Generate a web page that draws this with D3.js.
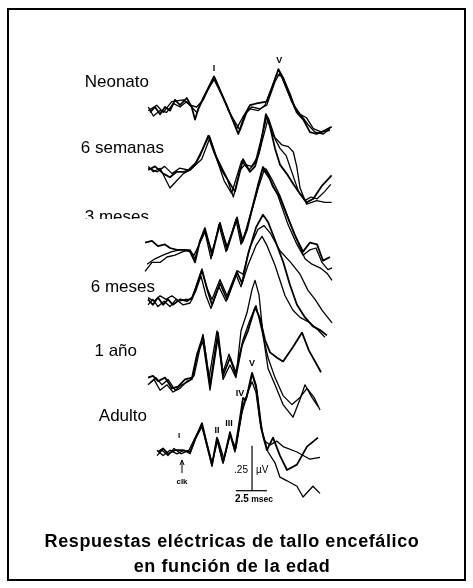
<!DOCTYPE html>
<html>
<head>
<meta charset="utf-8">
<script src="https://cdn.jsdelivr.net/npm/d3@7"></script>
<style>
body { margin: 0; background: #fff; }
svg { will-change: transform; }
svg text { font-family: "Liberation Sans", Arial, sans-serif; fill: #000; }
</style>
</head>
<body>
<div id="chart"></div>
<script>
// tiempo en ms (0 = click), amplitud en µV
var neonato1 = [[-2.58,-0.03],[-2.18,0],[-1.77,-0.04],[-1.37,0],[-0.97,-0.02],[-0.56,0.04],[-0.16,0.01],[0.38,0.05],[0.78,0],[1.05,-0.07],[1.32,-0.01],[1.72,0.05],[2.58,0.17],[3.6,0.01],[4.54,-0.15],[5.08,-0.04],[5.48,0.01],[6.02,0.02],[6.83,0.03],[7.23,0.1],[7.77,0.21],[8.17,0.16],[8.71,0.07],[9.25,-0.03],[9.78,-0.07],[10.32,-0.14],[10.86,-0.15],[11.53,-0.13],[12.07,-0.11]];
var neonato2 = [[-2.72,0],[-2.31,-0.05],[-1.77,-0.02],[-1.24,-0.03],[-0.7,0.02],[-0.16,0],[0.38,0.03],[0.91,-0.01],[1.18,-0.03],[1.85,0.07],[2.66,0.16],[3.74,-0.02],[4.68,-0.13],[5.22,-0.03],[5.62,0],[6.29,-0.01],[6.83,0.01],[7.5,0.14],[7.9,0.19],[8.44,0.1],[9.11,-0.01],[9.65,-0.05],[10.19,-0.1],[10.73,-0.14],[11.4,-0.15],[11.94,-0.12]];
var neonato3 = [[-2.72,-0.02],[-2.04,0.01],[-1.51,-0.03],[-0.83,0.03],[0.11,0.04],[0.65,0.01],[1.18,0],[1.72,0.04],[2.53,0.16],[3.47,0.03],[4.41,-0.12],[4.95,-0.05],[5.48,-0.01],[6.16,-0.02],[6.69,0.01],[7.63,0.18],[8.04,0.17],[8.84,0.03],[9.52,-0.04],[10.05,-0.06],[10.59,-0.12],[11.26,-0.14],[11.94,-0.13]];

var semanas1 = [[-2.72,0],[-2.18,0.02],[-1.51,-0.02],[-0.97,-0.04],[-0.43,-0.01],[0.11,-0.01],[0.65,0],[1.05,0.03],[1.45,0.08],[2.12,0.19],[2.58,0.1],[3.2,0],[4.27,-0.12],[4.92,0.06],[5.48,-0.01],[5.89,0.02],[6.29,0.12],[6.77,0.31],[7.1,0.24],[7.5,0.12],[7.9,0.03],[8.44,-0.02],[9.0,-0.08],[9.5,-0.13],[10.05,-0.18],[10.59,-0.16],[11.26,-0.09],[12.07,-0.03]];
var semanas2 = [[-2.72,0.02],[-2.31,-0.01],[-1.77,0.01],[-0.97,-0.1],[-0.43,-0.06],[0.11,-0.02],[0.65,0],[1.59,0.06],[2.26,0.18],[2.8,0.07],[3.6,-0.04],[4.14,-0.15],[4.68,0],[5.08,0.03],[5.62,0.02],[6.16,0.08],[6.96,0.29],[7.5,0.18],[8.04,0.14],[8.58,0.13],[8.98,0.1],[9.25,0.02],[9.52,-0.1],[10.05,-0.19],[10.86,-0.17],[11.53,-0.18],[12.07,-0.18]];
var semanas3 = [[-2.72,0.01],[-2.0,-0.01],[-1.4,0.02],[-0.8,-0.02],[-0.2,0.01],[0.5,0],[1.1,0.04],[2.2,0.19],[2.7,0.08],[3.4,-0.06],[4.0,-0.13],[4.8,0.05],[5.4,0],[5.9,0.04],[6.85,0.3],[7.3,0.2],[7.9,0.12],[8.4,0.08],[8.9,-0.02],[9.4,-0.12],[9.9,-0.17],[10.4,-0.15],[10.9,-0.16],[11.5,-0.12],[12.0,-0.08]];

var mes3a = [[-2.98,0.03],[-2.42,0.04],[-1.94,0.01],[-1.37,0.02],[-0.97,0],[-0.4,-0.01],[0.24,-0.01],[0.65,-0.02],[1.05,-0.08],[1.45,0.04],[1.85,0.11],[2.42,-0.04],[3.06,0.14],[3.63,-0.01],[4.44,0.17],[4.84,0.03],[5.24,0.1],[5.73,0.24],[6.13,0.35],[6.53,0.45],[6.94,0.41],[7.34,0.34],[7.9,0.28],[8.47,0.18],[9.11,0.07],[9.76,-0.02],[10.32,0.03],[10.89,0.02],[11.37,-0.07],[11.94,-0.05]];
var mes3b = [[-2.98,-0.13],[-2.42,-0.08],[-1.77,-0.08],[-1.21,-0.05],[-0.56,-0.04],[0.08,-0.02],[0.65,-0.01],[1.05,-0.06],[1.37,0.02],[1.85,0.09],[2.34,-0.06],[2.98,0.13],[3.55,-0.02],[4.35,0.16],[4.76,0.02],[5.32,0.13],[5.97,0.29],[6.45,0.43],[6.77,0.44],[7.26,0.38],[7.9,0.29],[8.71,0.14],[9.35,0.03],[9.92,-0.06],[10.48,-0.09],[11.13,-0.11],[11.69,-0.14],[12.1,-0.18]];
var mes3c = [[-2.82,-0.09],[-2.18,-0.06],[-1.53,-0.04],[-0.81,-0.02],[-0.16,-0.01],[0.48,-0.01],[0.97,-0.04],[1.85,0.09],[2.42,-0.02],[3.06,0.13],[3.63,0.01],[4.44,0.16],[4.92,0.04],[5.48,0.18],[6.13,0.33],[6.61,0.43],[7.1,0.38],[7.74,0.29],[8.55,0.13],[9.27,0.02],[9.76,-0.04],[10.32,-0.01],[10.81,0],[11.29,-0.08],[11.77,-0.12],[12.1,-0.11]];

var mes6a = [[-2.74,0.02],[-2.34,-0.01],[-1.94,0.03],[-1.53,-0.01],[-1.13,0.02],[-0.73,-0.01],[-0.16,0.02],[0.4,0.01],[0.81,0.03],[1.21,0.1],[1.61,0.18],[2.1,0.06],[2.42,-0.01],[3.06,0.11],[3.63,0.02],[4.44,0.17],[4.84,0.11],[5.32,0.27],[5.97,0.42],[6.53,0.49],[6.94,0.45],[7.5,0.35],[8.15,0.23],[8.71,0.1],[9.27,-0.01],[9.92,-0.08],[10.56,-0.13],[11.13,-0.15],[11.69,-0.18]];
var mes6b = [[-2.74,-0.01],[-2.34,0.02],[-1.94,-0.02],[-1.45,0.01],[-0.97,-0.02],[-0.48,0.02],[0.08,-0.01],[0.65,0],[1.13,0.07],[1.53,0.15],[1.94,0.04],[2.34,-0.03],[2.98,0.09],[3.55,0.01],[4.35,0.16],[4.76,0.09],[5.32,0.21],[5.97,0.32],[6.45,0.37],[6.85,0.32],[7.5,0.21],[8.31,0.04],[8.95,-0.04],[9.52,-0.08],[10.32,-0.11],[10.97,-0.15],[11.53,-0.19]];
var mes6c = [[-2.74,0.03],[-2.26,0.01],[-1.77,0.04],[-1.29,0.02],[-0.81,0.04],[-0.24,0.01],[0.32,0.02],[0.81,0.02],[1.21,0.11],[1.61,0.19],[2.02,0.08],[2.42,0.02],[3.06,0.13],[3.63,0.04],[4.44,0.18],[4.92,0.16],[5.48,0.31],[6.13,0.41],[6.61,0.43],[7.1,0.39],[7.9,0.29],[8.71,0.23],[9.52,0.16],[10.16,0.07],[10.73,0.02],[11.29,-0.04],[12.1,-0.11]];

var ano1a = [[-2.74,0.03],[-2.34,0.04],[-1.94,0.01],[-1.37,0.03],[-0.81,-0.03],[-0.32,-0.02],[0.24,0.02],[0.81,0.03],[1.21,0.16],[1.69,0.26],[2.26,-0.01],[2.9,0.28],[3.31,0.04],[3.87,0.14],[4.35,0.04],[4.84,0.21],[5.32,0.29],[5.89,0.42],[6.29,0.36],[6.69,0.24],[7.1,0.17],[7.66,0.14],[8.15,0.12],[8.95,0.2],[9.68,0.28],[10.24,0.18],[10.81,0.11],[11.21,0.06]];
var ano1b = [[-2.74,-0.01],[-2.26,0.02],[-1.77,-0.04],[-1.21,-0.01],[-0.73,-0.05],[-0.16,-0.03],[0.4,0.01],[0.81,0.02],[1.29,0.17],[1.69,0.23],[2.26,-0.04],[2.9,0.25],[3.31,0.02],[3.87,0.1],[4.35,0.03],[4.76,0.29],[5.24,0.39],[5.65,0.52],[5.89,0.57],[6.21,0.49],[6.53,0.27],[6.94,0.08],[7.5,-0.01],[8.15,-0.12],[8.95,-0.19],[9.52,-0.09],[9.92,-0.01],[10.48,-0.08],[10.97,-0.13]];
var ano1c = [[-2.58,0],[-2.1,0.03],[-1.61,-0.01],[-1.13,0.02],[-0.56,-0.04],[0,-0.01],[0.56,0.01],[0.97,0.04],[1.69,0.27],[2.18,0.03],[2.82,0.29],[3.31,0.06],[3.79,0.16],[4.35,0.06],[4.92,0.24],[5.48,0.35],[5.97,0.43],[6.45,0.29],[6.94,0.14],[7.5,0.03],[8.15,-0.07],[8.87,-0.12],[9.52,-0.08],[10.08,-0.03],[10.65,-0.08],[11.13,-0.15]];

var adultoA = [[-1.94,0],[-1.53,0.02],[-1.13,-0.01],[-0.56,0.01],[0,0.01],[0.65,0],[1.05,0.07],[1.61,0.16],[2.02,0.04],[2.42,-0.07],[2.82,0.08],[3.31,-0.06],[3.87,0.11],[4.27,0.01],[4.68,0.19],[4.92,0.3],[5.16,0.29],[5.65,0.44],[5.97,0.37],[6.29,0.18],[6.53,0.09],[6.85,0.01],[7.34,0.08],[7.9,-0.02],[8.47,-0.1],[9.27,-0.07],[10.08,0.03],[10.97,0.08]];
var adultoB = [[-2.02,-0.02],[-1.61,0.01],[-1.13,-0.02],[-0.65,0.02],[-0.08,-0.01],[0.56,0.01],[1.13,0.09],[1.61,0.15],[2.42,-0.06],[2.9,0.07],[3.39,-0.04],[3.87,0.09],[4.35,0.02],[4.92,0.26],[5.24,0.32],[5.65,0.39],[5.97,0.33],[6.37,0.13],[6.69,0.06],[7.1,0.04],[7.66,0.06],[8.15,0.03],[9.27,0],[10.32,-0.04],[11.13,-0.03]];
var adultoC = [[-2.02,0.01],[-1.53,-0.02],[-0.97,0.01],[-0.4,-0.01],[0.16,0.01],[0.65,-0.01],[1.13,0.08],[1.61,0.14],[2.42,-0.08],[2.82,0.07],[3.31,-0.06],[3.87,0.1],[4.27,0],[4.84,0.22],[5.32,0.33],[5.65,0.43],[6.05,0.34],[6.45,0.12],[6.94,0],[7.5,-0.06],[7.9,-0.14],[8.47,-0.16],[9.27,-0.19],[9.76,-0.25],[10.56,-0.19],[11.13,-0.23]];

var groupLabels = ["Neonato", "6 semanas", "3 meses", "6 meses", "1 año", "Adulto"];
var groupTraces = [
    [neonato1, neonato2, neonato3],
    [semanas1, semanas2, semanas3],
    [mes3a, mes3b, mes3c],
    [mes6a, mes6b, mes6c],
    [ano1a, ano1b, ano1c],
    [adultoA, adultoB, adultoC]
];
// ondas marcadas: [nombre, ms]
var neonatoWaves = [["I", 2.58], ["V", 7.85]];
var adultoWaves = [["I", -0.24], ["II", 2.82], ["III", 3.79], ["IV", 4.68], ["V", 5.65]];
var scaleBar = {"ms": 2.5, "uV": 0.25};
var titleLines = ["Respuestas eléctricas de tallo encefálico", "en función de la edad"];

var W = 473, H = 588;

// layout
var groupBase = [107, 170, 248, 303, 383, 452];
var labelEnd = [[149, 87], [164, 153], [149, 222], [155, 292], [137, 356], [147, 421]];

var svg = d3.select("#chart").append("svg")
    .attr("width", W)
    .attr("height", H);

svg.append("rect")
    .attr("x", 0).attr("y", 0).attr("width", W).attr("height", H)
    .attr("fill", "#fff");

svg.append("rect")
    .attr("x", 8).attr("y", 9)
    .attr("width", 457).attr("height", 571)
    .attr("fill", "none")
    .attr("stroke", "#000")
    .attr("stroke-width", 2);

var x = d3.scaleLinear().domain([0, 10]).range([182, 306]);
var amp = d3.scaleLinear().domain([0, 1]).range([0, -180]);

var line = d3.line()
    .x(function (d) { return x(d[0]); })
    .y(function (d) { return amp(d[1]); });

// "3 meses" sale recortado en el original
svg.append("clipPath").attr("id", "cut3")
    .append("rect").attr("x", 0).attr("y", 0).attr("width", W).attr("height", 219);

groupTraces.forEach(function (traces, gi) {
    var g = svg.append("g")
        .attr("transform", "translate(0," + groupBase[gi] + ")");

    traces.forEach(function (tr, ti) {
        g.append("path")
            .datum(tr)
            .attr("d", line)
            .attr("fill", "none")
            .attr("stroke", "#000")
            .attr("stroke-width", ti == 0 ? 1.8 : 1.3)
            .attr("stroke-linejoin", "round");
    });

    var lab = svg.append("text")
        .attr("x", labelEnd[gi][0])
        .attr("y", labelEnd[gi][1])
        .attr("text-anchor", "end")
        .attr("font-size", 17)
        .text(groupLabels[gi]);
    if (gi == 2) lab.attr("clip-path", "url(#cut3)");
});

// etiquetas de ondas
var neoY = [71, 63];
neonatoWaves.forEach(function (w, i) {
    svg.append("text")
        .attr("x", x(w[1]))
        .attr("y", neoY[i])
        .attr("text-anchor", "middle")
        .attr("font-size", 9)
        .attr("font-weight", "bold")
        .text(w[0]);
});

var adY = [438, 433, 426, 396, 366];
adultoWaves.forEach(function (w, i) {
    svg.append("text")
        .attr("x", x(w[1]))
        .attr("y", adY[i])
        .attr("text-anchor", "middle")
        .attr("font-size", i == 0 ? 8 : 9)
        .attr("font-weight", "bold")
        .text(w[0]);
});

// click
var clkX = x(0);
svg.append("line")
    .attr("x1", clkX).attr("x2", clkX)
    .attr("y1", 473).attr("y2", 461)
    .attr("stroke", "#000").attr("stroke-width", 1);
svg.append("path")
    .attr("d", "M" + (clkX - 2) + ",465 L" + clkX + ",460 L" + (clkX + 2) + ",465")
    .attr("fill", "none").attr("stroke", "#000").attr("stroke-width", 1);
svg.append("text")
    .attr("x", clkX).attr("y", 484)
    .attr("text-anchor", "middle")
    .attr("font-size", 8)
    .attr("font-weight", "bold")
    .text("clk");

// barra de escala
var sb = svg.append("g").attr("transform", "translate(0," + groupBase[5] + ")");
var sbBottom = -0.215;
var sbX0 = 4.35, sbX1 = sbX0 + scaleBar.ms, sbXv = 5.65;
sb.append("line")
    .attr("x1", x(sbX0)).attr("x2", x(sbX1))
    .attr("y1", amp(sbBottom)).attr("y2", amp(sbBottom))
    .attr("stroke", "#000").attr("stroke-width", 1.2);
sb.append("line")
    .attr("x1", x(sbXv)).attr("x2", x(sbXv))
    .attr("y1", amp(sbBottom)).attr("y2", amp(sbBottom + scaleBar.uV))
    .attr("stroke", "#000").attr("stroke-width", 1.2);

svg.append("text")
    .attr("x", 248).attr("y", 473)
    .attr("text-anchor", "end")
    .attr("font-size", 10)
    .text("." + String(scaleBar.uV).split(".")[1]);
svg.append("text")
    .attr("x", 256).attr("y", 473)
    .attr("font-size", 10)
    .text("µV");
var msT = svg.append("text")
    .attr("x", 235).attr("y", 502)
    .attr("font-weight", "bold");
msT.append("tspan").attr("font-size", 10).text(scaleBar.ms);
msT.append("tspan").attr("font-size", 8.5).text(" msec");

// titulo
titleLines.forEach(function (t, i) {
    svg.append("text")
        .attr("x", 232)
        .attr("y", 547 + i * 25)
        .attr("text-anchor", "middle")
        .attr("font-size", 18)
        .attr("letter-spacing", 0.6)
        .attr("font-weight", "bold")
        .text(t);
});
</script>
</body>
</html>
